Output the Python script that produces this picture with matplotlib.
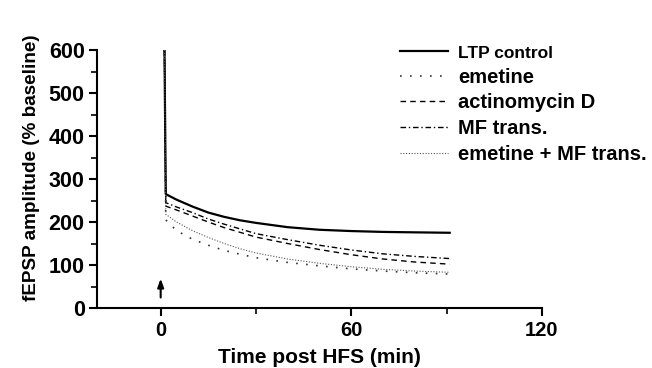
import matplotlib
matplotlib.use("Agg")
import matplotlib.pyplot as plt
from matplotlib.ticker import MultipleLocator

plt.rcParams['font.family'] = ['Liberation Sans', 'DejaVu Sans']
plt.rcParams['font.weight'] = 'bold'

t = [1.2, 1.6, 5, 10, 15, 20, 25, 30, 40, 50, 60, 70, 80, 91]
ltp_control = [600, 265, 252, 236, 222, 212, 204, 198, 188, 182, 179, 177, 176, 175]
emetine = [600, 205, 180, 160, 146, 134, 125, 117, 106, 98, 91, 86, 82, 79]
actinomycin = [600, 237, 228, 214, 200, 187, 176, 165, 150, 136, 124, 114, 107, 102]
mf_trans = [600, 245, 235, 222, 207, 195, 184, 173, 159, 146, 135, 126, 120, 115]
emetine_mf = [600, 218, 200, 180, 164, 150, 138, 128, 114, 104, 96, 90, 86, 83]

labels = ["LTP control", "emetine", "actinomycin D", "MF trans.", "emetine + MF trans."]
xticks = [0, 60, 120]
yticks = [0, 100, 200, 300, 400, 500, 600]

fig = plt.figure(figsize=(6.52, 3.68), dpi=100)
ax = fig.add_axes([0.149, 0.163, 0.682, 0.701])

ax.plot(t, ltp_control, color='black', lw=1.6, ls='-', label=labels[0])
ax.plot(t, emetine, color='#333333', lw=1.2, ls=(0, (1, 5)), label=labels[1])
ax.plot(t, actinomycin, color='black', lw=1.0, ls=(0, (4, 3)), label=labels[2])
ax.plot(t, mf_trans, color='black', lw=1.0, ls=(0, (4, 2, 1, 2)), label=labels[3])
ax.plot(t, emetine_mf, color='#555555', lw=0.8, ls=(0, (1, 1.5)), label=labels[4])

ax.annotate('', xy=(0, 75), xytext=(0, 18),
            arrowprops=dict(arrowstyle='-|>,head_width=0.18,head_length=0.5', color='black', lw=1.5))

ax.set_xlim(-20, 120)
ax.set_ylim(0, 600)
ax.set_xticks(xticks)
ax.set_yticks(yticks)
ax.xaxis.set_minor_locator(MultipleLocator(30))
ax.yaxis.set_minor_locator(MultipleLocator(50))
for s in ['top', 'right']:
    ax.spines[s].set_visible(False)
for s in ['left', 'bottom']:
    ax.spines[s].set_linewidth(1.5)
ax.tick_params(which='major', direction='out', length=6, width=1.5, pad=3)
ax.tick_params(axis='x', which='major', labelsize=14.5)
ax.tick_params(axis='y', which='major', labelsize=15.5)
ax.tick_params(which='minor', direction='out', length=4, width=1.2)
for lab in ax.get_xticklabels() + ax.get_yticklabels():
    lab.set_fontweight('bold')

ax.set_xlabel("Time post HFS (min)", fontsize=15, fontweight='bold', labelpad=6)
ax.set_ylabel("fEPSP amplitude (% baseline)", fontsize=13.6, fontweight='bold', labelpad=6)
ax.yaxis.label.set_y(0.545)

leg = ax.legend(loc='upper left', bbox_to_anchor=(400 / 652, 1 - 44 / 368),
                bbox_transform=fig.transFigure, frameon=False, fontsize=14.5,
                handlelength=2.4, handletextpad=0.5, labelspacing=0.33,
                borderpad=0, borderaxespad=0)
leg.get_texts()[0].set_fontsize(12.5)

fig.savefig("out.png", dpi=100)
